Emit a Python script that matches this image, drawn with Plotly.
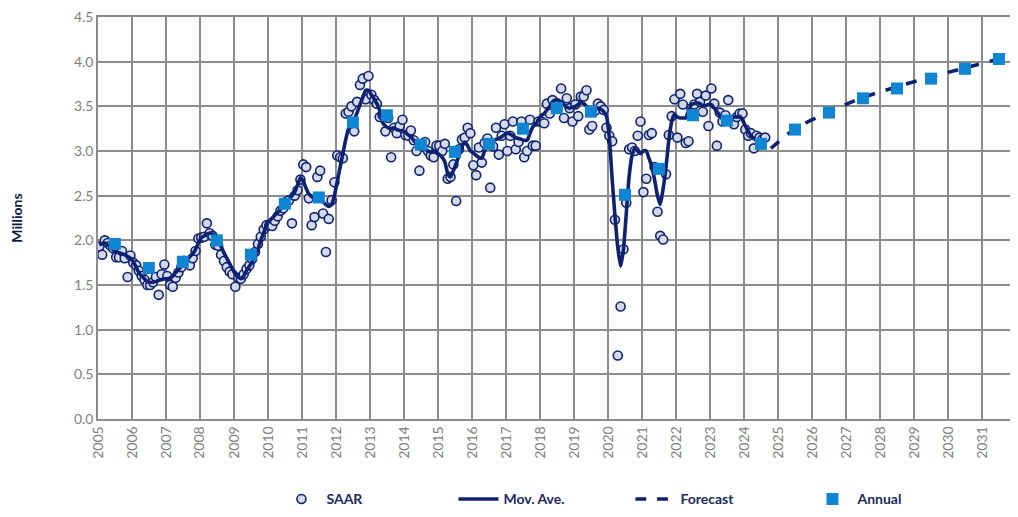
import pandas as pd
import plotly.graph_objects as go

# SAAR mensual (millones), ene-2005 .. ago-2024
saar = (
    [1.93, 1.84, 2.00, 1.97, 1.94, 1.91, 1.81, 1.81, 1.88, 1.80, 1.59, 1.83]  # 2005
    + [1.75, 1.72, 1.66, 1.60, 1.56, 1.50, 1.50, 1.53, 1.59, 1.39, 1.62, 1.73]  # 2006
    + [1.60, 1.50, 1.48, 1.58, 1.64, 1.70, 1.77, 1.75, 1.72, 1.80, 1.88, 2.02]  # 2007
    + [2.03, 2.04, 2.19, 2.08, 2.05, 1.95, 1.94, 1.84, 1.77, 1.70, 1.65, 1.62]  # 2008
    + [1.48, 1.58, 1.57, 1.62, 1.68, 1.72, 1.79, 1.87, 1.96, 2.04, 2.12, 2.17]  # 2009
    + [2.17, 2.16, 2.22, 2.27, 2.33, 2.36, 2.43, 2.45, 2.19, 2.50, 2.56, 2.68]  # 2010
    + [2.85, 2.82, 2.47, 2.17, 2.26, 2.71, 2.78, 2.30, 1.87, 2.24, 2.45, 2.65]  # 2011
    + [2.95, 2.93, 2.92, 3.42, 3.44, 3.50, 3.22, 3.55, 3.74, 3.81, 3.58, 3.84]  # 2012
    + [3.63, 3.57, 3.53, 3.38, 3.40, 3.22, 3.37, 2.93, 3.26, 3.20, 3.28, 3.35]  # 2013
    + [3.18, 3.17, 3.23, 3.12, 3.00, 2.78, 3.05, 3.10, 3.00, 2.95, 2.93, 3.06]  # 2014
    + [3.06, 3.00, 3.08, 2.69, 2.71, 2.85, 2.44, 3.02, 3.13, 3.15, 3.26, 3.20]  # 2015
    + [2.84, 2.73, 3.04, 2.87, 3.09, 3.14, 2.59, 3.05, 3.26, 2.96, 3.17, 3.30]  # 2016
    + [3.00, 3.17, 3.33, 3.02, 3.10, 3.33, 2.93, 3.00, 3.35, 3.06, 3.06, 3.33]  # 2017
    + [3.33, 3.31, 3.53, 3.42, 3.57, 3.50, 3.52, 3.70, 3.37, 3.59, 3.48, 3.33]  # 2018
    + [3.52, 3.39, 3.61, 3.61, 3.68, 3.24, 3.28, 3.45, 3.53, 3.50, 3.46, 3.26]  # 2019
    + [3.17, 3.11, 2.23, 0.71, 1.26, 1.90, 2.42, 3.02, 3.04, 3.00, 3.17, 3.33]  # 2020
    + [2.54, 2.69, 3.18, 3.20, 2.82, 2.32, 2.05, 2.01, 2.74, 3.18, 3.39, 3.58]  # 2021
    + [3.15, 3.64, 3.52, 3.09, 3.11, 3.48, 3.52, 3.64, 3.55, 3.44, 3.62, 3.28]  # 2022
    + [3.70, 3.53, 3.06, 3.43, 3.33, 3.40, 3.57, 3.33, 3.30, 3.38, 3.42, 3.42]  # 2023
    + [3.24, 3.17, 3.20, 3.03, 3.17, 3.15, 3.13, 3.15]  # 2024
)

# media movil mensual
mov_ave = (
    [1.95, 1.96, 1.97, 1.95, 1.92, 1.89, 1.87, 1.86, 1.85, 1.84, 1.82, 1.80]
    + [1.76, 1.70, 1.64, 1.60, 1.57, 1.54, 1.53, 1.53, 1.54, 1.55, 1.56, 1.57]
    + [1.57, 1.58, 1.60, 1.64, 1.67, 1.71, 1.75, 1.78, 1.82, 1.85, 1.90, 1.97]
    + [2.03, 2.05, 2.07, 2.08, 2.07, 2.05, 2.00, 1.93, 1.86, 1.80, 1.74, 1.68]
    + [1.62, 1.59, 1.57, 1.60, 1.66, 1.71, 1.76, 1.82, 1.90, 2.00, 2.08, 2.17]
    + [2.22, 2.25, 2.28, 2.31, 2.35, 2.39, 2.42, 2.46, 2.50, 2.54, 2.62, 2.70]
    + [2.66, 2.58, 2.52, 2.49, 2.47, 2.46, 2.45, 2.43, 2.40, 2.38, 2.40, 2.50]
    + [2.66, 2.82, 2.97, 3.13, 3.25, 3.30, 3.35, 3.43, 3.52, 3.60, 3.68, 3.68]
    + [3.63, 3.58, 3.53, 3.45, 3.32, 3.28, 3.26, 3.25, 3.26, 3.24, 3.23, 3.22]
    + [3.21, 3.18, 3.16, 3.12, 3.08, 3.05, 3.03, 3.02, 3.00, 2.99, 2.99, 2.98]
    + [2.96, 2.93, 2.88, 2.75, 2.71, 2.78, 2.86, 2.95, 3.05, 3.10, 3.06, 3.00]
    + [2.98, 2.95, 2.93, 2.92, 3.00, 3.05, 3.10, 3.12, 3.13, 3.14, 3.16, 3.18]
    + [3.20, 3.19, 3.17, 3.15, 3.14, 3.13, 3.12, 3.12, 3.20, 3.27, 3.30, 3.35]
    + [3.40, 3.42, 3.46, 3.50, 3.55, 3.57, 3.57, 3.55, 3.52, 3.49, 3.48, 3.49]
    + [3.50, 3.52, 3.54, 3.53, 3.50, 3.48, 3.48, 3.48, 3.48, 3.47, 3.44, 3.39]
    + [3.15, 2.68, 2.28, 1.92, 1.71, 1.90, 2.30, 2.72, 2.95, 3.03, 3.00, 2.97]
    + [3.00, 3.00, 2.92, 2.83, 2.68, 2.50, 2.40, 2.58, 2.82, 3.12, 3.33, 3.41]
    + [3.38, 3.37, 3.37, 3.37, 3.45, 3.52, 3.53, 3.54, 3.53, 3.50, 3.51, 3.52]
    + [3.52, 3.48, 3.44, 3.40, 3.36, 3.36, 3.37, 3.37, 3.38, 3.38, 3.39, 3.35]
    + [3.28, 3.22, 3.17, 3.14, 3.12, 3.11, 3.10, 3.10]
)

# pronostico
forecast_dates = ['2024-10-15', '2025-07-01', '2026-07-01', '2027-07-01', '2028-07-01',
                  '2029-07-01', '2030-07-01', '2031-07-01', '2031-12-25']
forecast = [3.03, 3.25, 3.44, 3.60, 3.72, 3.83, 3.93, 4.03, 4.07]

# anual
years = list(range(2005, 2032))
annual = [1.96, 1.69, 1.76, 2.00, 1.84, 2.41, 2.48, 3.32, 3.40, 3.07, 2.99, 3.08, 3.25,
          3.48, 3.44, 2.51, 2.80, 3.40, 3.34, 3.08, 3.24, 3.43, 3.59, 3.70, 3.81, 3.92, 4.03]

months = pd.date_range('2005-01-01', periods=len(saar), freq='MS') + pd.Timedelta(days=14)
annual_dates = [f'{y}-07-01' for y in years]

navy = '#0c2270'
grid = '#8c8c8c'

fig = go.Figure()
fig.add_trace(go.Scatter(
    x=months, y=saar, mode='markers', name='SAAR',
    marker=dict(symbol='circle', size=9, color='#d6d9e8',
                line=dict(color=navy, width=1.6))
))
fig.add_trace(go.Scatter(
    x=months[:len(mov_ave)], y=mov_ave, mode='lines', name='Mov. Ave.',
    line=dict(color=navy, width=3.6, shape='spline', smoothing=0.5)
))
fig.add_trace(go.Scatter(
    x=forecast_dates, y=forecast, mode='lines', name='Forecast',
    line=dict(color=navy, width=3.6, dash='dash', shape='spline', smoothing=0.6)
))
fig.add_trace(go.Scatter(
    x=annual_dates, y=annual, mode='markers', name='Annual',
    marker=dict(symbol='square', size=12, color='#0f86d3')
))

# la pagina tiene 8px de margen en el body
fig.update_layout(
    width=1010, height=509,
    margin=dict(l=90, r=2, t=9, b=95),
    paper_bgcolor='white', plot_bgcolor='white',
    font=dict(family='Lato, Open Sans, sans-serif', size=14, color='#7f7f7f'),
    showlegend=True,
    legend=dict(orientation='h', x=0.58, xanchor='center', y=-0.2, yanchor='middle',
                entrywidth=122, font=dict(size=14, color='#1b2a5e', weight='bold'),
                itemwidth=40),
    xaxis=dict(type='date', range=['2005-01-01', '2031-12-31'], automargin=False,
               tick0='2005-01-01', dtick='M12', tickformat='%Y', tickangle=-90,
               showgrid=True, gridcolor=grid, gridwidth=1.5,
               showline=True, linecolor=grid, linewidth=1.5, mirror=True,
               ticks='', zeroline=False, ticklabeloverflow='allow'),
    yaxis=dict(range=[0, 4.5001], tick0=0, dtick=0.5, tickformat='.1f', automargin=False,
               showgrid=True, gridcolor=grid, gridwidth=1.5,
               showline=True, linecolor=grid, linewidth=1.5, mirror=True,
               ticks='', zeroline=False, ticklabeloverflow='allow',
               title=dict(text='Millions', standoff=55,
                          font=dict(size=14, color='#0c1a45', weight='bold'))),
)

fig.write_html('out.html')
